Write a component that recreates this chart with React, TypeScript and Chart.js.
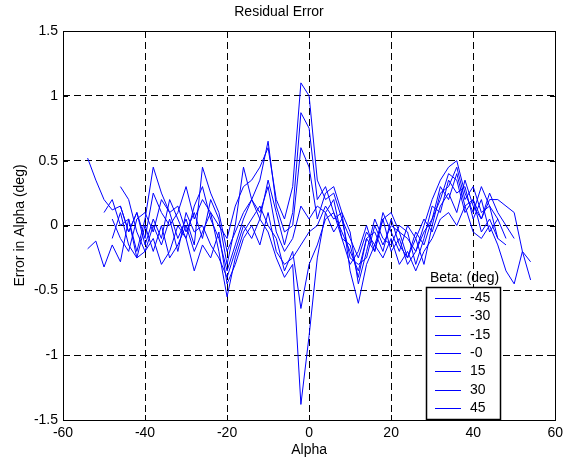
import React, { useEffect, useRef } from 'react';
import { Chart, registerables } from 'chart.js';

Chart.register(...registerables);

// Alpha sample positions (deg)
const alpha = [
  -54, -52, -50, -48, -46, -44, -42, -40, -38, -36, -34,
  -32, -30, -28, -26, -24, -22, -20, -18, -16, -14, -12,
  -10, -8, -6, -4, -2, 0, 2, 4, 6, 8, 10,
  12, 14, 16, 18, 20, 22, 24, 26, 28, 30, 32,
  34, 36, 38, 40, 42, 44, 46, 48, 50, 52, 54,
];

const betaLabels = ['-45', '-30', '-15', '-0', '15', '30', '45'];

const errBetaM45 = [
  null, null, null, null, 0.15, -0.05, 0.1, -0.1, 0.25, 0.1, 0.0,
  0.1, 0.3, 0.05, 0.2, 0.1, 0.0, -0.1, 0.15, 0.3, 0.35, 0.45,
  0.6, 0.2, 0.05, 0.3, 1.1, 1.0, 0.35, 0.2, 0.25, 0.05, -0.1,
  -0.25, -0.05, -0.15, 0.05, 0.1, -0.05, -0.1, -0.2, 0.0, 0.2, 0.35,
  0.45, 0.5, 0.25, 0.1, 0.3, 0.15, 0.05, -0.1, null, null, null,
];

const errBetaM30 = [
  null, null, null, 0.05, -0.1, -0.2, 0.05, 0.1, -0.05, 0.2, 0.1,
  -0.1, 0.05, -0.15, 0.45, 0.25, 0.1, -0.2, -0.05, 0.1, 0.2, 0.05,
  0.35, 0.1, -0.15, 0.1, 0.87, 0.75, 0.2, 0.3, 0.1, -0.05, -0.2,
  -0.35, -0.1, -0.05, -0.2, 0.05, -0.15, -0.25, -0.05, -0.15, 0.05, 0.3,
  0.2, 0.4, 0.15, 0.2, 0.05, 0.25, 0.1, 0.0, -0.1, null, null,
];

const errBetaM15 = [
  null, null, 0.1, 0.2, 0.0, 0.05, -0.2, 0.05, 0.45, 0.25, 0.1,
  0.15, -0.05, 0.1, -0.1, 0.2, 0.05, -0.3, 0.0, 0.45, 0.2, 0.35,
  0.65, 0.15, -0.05, 0.0, 0.6, 0.45, 0.05, 0.25, 0.3, 0.1, -0.05,
  -0.45, -0.2, 0.05, -0.1, -0.15, 0.0, -0.05, -0.3, -0.1, 0.15, 0.1,
  0.35, 0.25, 0.3, 0.05, 0.2, -0.05, 0.05, null, null, null, null,
];

const errBeta0 = [
  0.52, 0.35, 0.2, 0.12, 0.15, -0.05, 0.1, -0.15, 0.05, -0.1, 0.2,
  0.05, -0.1, 0.15, 0.3, 0.05, -0.1, -0.35, -0.15, 0.05, 0.2, 0.1,
  0.3, -0.05, -0.2, -0.1, 0.15, 0.05, 0.15, 0.1, 0.2, -0.1, -0.3,
  -0.2, 0.0, -0.2, 0.1, -0.05, -0.2, 0.0, -0.1, 0.05, -0.05, 0.15,
  0.25, 0.1, 0.35, 0.15, 0.05, 0.2, 0.2, 0.15, 0.1, -0.2, -0.28,
];

const errBetaP15 = [
  -0.18, -0.12, -0.32, -0.15, -0.28, 0.05, -0.25, -0.2, -0.1, -0.3, -0.2,
  0.0, -0.1, -0.35, -0.15, -0.25, -0.05, -0.45, -0.3, -0.1, 0.0, -0.15,
  0.1, -0.2, -0.3, -0.25, -0.15, -0.05, 0.0, 0.15, 0.05, 0.1, -0.35,
  -0.6, -0.3, -0.15, -0.25, -0.1, -0.3, -0.2, -0.35, -0.2, -0.1, 0.05,
  0.1, 0.0, 0.15, -0.05, -0.1, 0.0, -0.15, -0.35, -0.45, -0.2, -0.42,
];

const errBetaP30 = [
  null, null, null, -0.1, 0.1, -0.15, -0.25, 0.0, -0.2, 0.0, -0.25,
  -0.15, 0.0, -0.2, -0.05, 0.1, -0.2, -0.55, -0.25, -0.05, 0.05, 0.15,
  0.0, -0.1, -0.35, -0.2, -0.64, -0.3, -0.15, 0.05, 0.1, -0.1, -0.15,
  -0.4, -0.1, -0.2, 0.05, -0.2, -0.1, -0.3, -0.2, -0.05, 0.05, 0.2,
  0.4, 0.35, 0.1, 0.2, -0.05, 0.05, -0.1, -0.15, null, null, null,
];

const errBetaP45 = [
  null, null, null, null, 0.3, 0.2, -0.05, -0.2, 0.0, -0.15, 0.05,
  -0.2, 0.1, -0.05, 0.0, -0.15, -0.25, -0.4, -0.2, 0.0, -0.1, 0.05,
  -0.05, -0.25, -0.4, -0.3, -1.38, -0.85, -0.25, 0.1, -0.05, 0.05, -0.25,
  -0.3, -0.25, 0.0, -0.15, 0.0, -0.05, -0.25, -0.1, -0.3, 0.0, 0.25,
  0.3, 0.45, 0.2, 0.3, 0.1, 0.15, -0.1, null, null, null, null,
];

const seriesValues = [errBetaM45, errBetaM30, errBetaM15, errBeta0, errBetaP15, errBetaP30, errBetaP45];

const xTickValues = [-60, -40, -20, 0, 20, 40, 60];
const yTickValues = [-1.5, -1, -0.5, 0, 0.5, 1, 1.5];

const FONT = "'Liberation Sans', Arial, Helvetica, sans-serif";
const BLUE = '#0000ff';

const matlabPlugin = {
  id: 'matlabAxes',
  afterDraw(chart: any) {
    const { ctx, chartArea, scales } = chart;
    const left = Math.round(chartArea.left);
    const right = Math.round(chartArea.right);
    const top = Math.round(chartArea.top);
    const bottom = Math.round(chartArea.bottom);
    ctx.save();
    ctx.setLineDash([]);
    ctx.strokeStyle = '#000';
    ctx.lineWidth = 1;
    // inner tick marks
    const tl = 5;
    ctx.beginPath();
    scales.x.ticks.forEach((t: any) => {
      const px = Math.round(scales.x.getPixelForValue(t.value)) + 0.5;
      ctx.moveTo(px, bottom);
      ctx.lineTo(px, bottom - tl);
      ctx.moveTo(px, top);
      ctx.lineTo(px, top + tl);
    });
    scales.y.ticks.forEach((t: any) => {
      const py = Math.round(scales.y.getPixelForValue(t.value)) + 0.5;
      ctx.moveTo(left, py);
      ctx.lineTo(left + tl, py);
      ctx.moveTo(right, py);
      ctx.lineTo(right - tl, py);
    });
    ctx.stroke();
    // frame
    ctx.strokeRect(left + 0.5, top + 0.5, right - left, bottom - top);

    // legend
    const boxL = right - 129;
    const boxR = right - 55;
    const boxT = 287;
    const boxB = bottom - 1;
    ctx.fillStyle = '#fff';
    ctx.fillRect(boxL, boxT, boxR - boxL, boxB - boxT);
    ctx.strokeStyle = '#000';
    ctx.lineWidth = 1.5;
    ctx.strokeRect(boxL + 0.5, boxT + 0.5, boxR - boxL, boxB - boxT);
    ctx.font = `14px ${FONT}`;
    ctx.fillStyle = '#000';
    ctx.textBaseline = 'middle';
    ctx.textAlign = 'left';
    ctx.fillText('Beta: (deg)', boxL + 4, boxT - 9);
    chart.data.datasets.forEach((ds: any, i: number) => {
      const y = Math.round(boxT + 11 + i * 18.3) + 0.5;
      ctx.strokeStyle = ds.borderColor;
      ctx.lineWidth = 1;
      ctx.beginPath();
      ctx.moveTo(boxL + 9, y);
      ctx.lineTo(boxL + 35, y);
      ctx.stroke();
      ctx.fillStyle = '#000';
      ctx.fillText(ds.label, boxL + 44, y);
    });
    ctx.restore();
  },
};

export default function App() {
  const canvasRef = useRef<HTMLCanvasElement>(null);

  useEffect(() => {
    if (!canvasRef.current) return;
    const datasets = seriesValues.map((vals, si) => ({
      label: betaLabels[si],
      data: alpha
        .map((a, i) => ({ x: a, y: vals[i] }))
        .filter((p) => p.y !== null),
      borderColor: BLUE,
      backgroundColor: BLUE,
      borderWidth: 1,
      pointRadius: 0,
      fill: false,
      tension: 0,
    }));

    const chart = new Chart(canvasRef.current, {
      type: 'line',
      data: { datasets },
      options: {
        animation: false,
        responsive: false,
        devicePixelRatio: 1,
        layout: { padding: { left: 0, right: 10, top: 0, bottom: 0 } },
        font: { family: FONT },
        plugins: {
          legend: { display: false },
          tooltip: { enabled: false },
          title: {
            display: true,
            text: 'Residual Error',
            color: '#000',
            font: { family: FONT, size: 14, weight: 'normal' },
            padding: { top: 4, bottom: 10.2 },
          },
        },
        scales: {
          x: {
            type: 'linear',
            min: -60,
            max: 60,
            afterBuildTicks: (scale: any) => {
              scale.ticks = xTickValues.map((v) => ({ value: v }));
            },
            afterFit: (scale: any) => {
              scale.height = 42;
            },
            ticks: {
              color: '#000',
              font: { family: FONT, size: 14 },
              padding: 5,
              maxRotation: 0,
              callback: (v: any) => String(v),
            },
            grid: { color: '#000', lineWidth: 1, drawTicks: false },
            border: { display: false, dash: [7, 4] },
            title: {
              display: true,
              text: 'Alpha',
              color: '#000',
              font: { family: FONT, size: 14 },
              padding: { top: 0, bottom: 3 },
            },
          },
          y: {
            type: 'linear',
            min: -1.5,
            max: 1.5,
            afterBuildTicks: (scale: any) => {
              scale.ticks = yTickValues.map((v) => ({ value: v }));
            },
            afterFit: (scale: any) => {
              scale.width = 63;
            },
            ticks: {
              color: '#000',
              font: { family: FONT, size: 14 },
              padding: 5,
              callback: (v: any) => String(Math.round(Number(v) * 10) / 10),
            },
            grid: { color: '#000', lineWidth: 1, drawTicks: false },
            border: { display: false, dash: [7, 4] },
            title: {
              display: true,
              text: 'Error in Alpha (deg)',
              color: '#000',
              font: { family: FONT, size: 14 },
              padding: { top: 11.6, bottom: 0 },
            },
          },
        },
      },
      plugins: [matlabPlugin],
    } as any);

    return () => chart.destroy();
  }, []);

  return (
    <div style={{ position: 'absolute', left: 0, top: 0, width: 568, height: 462, background: '#fff' }}>
      <canvas ref={canvasRef} width={568} height={462} style={{ display: 'block' }} />
    </div>
  );
}
